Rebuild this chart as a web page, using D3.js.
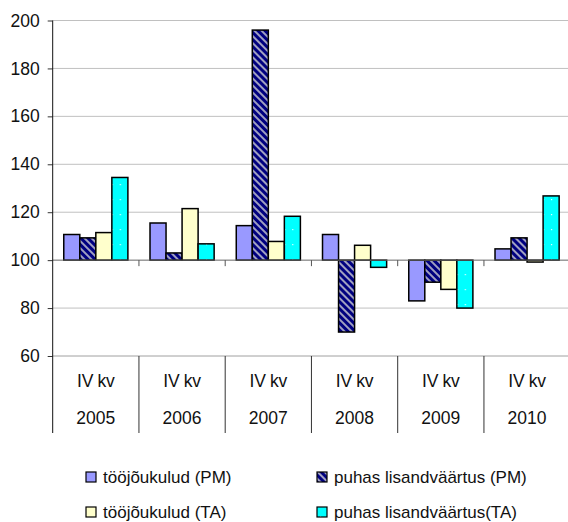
<!DOCTYPE html>
<html>
<head>
<meta charset="utf-8">
<script src="https://cdn.jsdelivr.net/npm/d3@7"></script>
<style>
  body { margin: 0; background: #fff; }
  svg { display: block; font-family: "Liberation Sans", Arial, sans-serif; }
</style>
</head>
<body>
<div id="chart"></div>
<script>
const quarters = ["IV kv", "IV kv", "IV kv", "IV kv", "IV kv", "IV kv"];
const years = ["2005", "2006", "2007", "2008", "2009", "2010"];
const seriesNames = ["tööjõukulud (PM)", "puhas lisandväärtus (PM)", "tööjõukulud (TA)", "puhas lisandväärtus(TA)"];
const laborPM = [110.7, 115.5, 114.4, 110.7, 83.0, 104.7];
const valuePM = [109.3, 103.0, 196.0, 70.0, 90.8, 109.3];
const laborTA = [111.5, 121.5, 107.8, 106.2, 87.8, 99.2];
const valueTA = [134.5, 106.8, 118.3, 97.0, 80.0, 126.8];
const yTicks = [60, 80, 100, 120, 140, 160, 180, 200];

const WIDTH = 568, HEIGHT = 522,
    LEFT = 52.7, RIGHT = 570.2,
    TOP = 20.5, BOTTOM = 356,
    BASE = 100;

const allSeries = [laborPM, valuePM, laborTA, valueTA];
const fills = ["#9999ff", "url(#hatch)", "#ffffcc", "url(#dots)"];

const svg = d3.select("#chart").append("svg")
    .attr("width", WIDTH)
    .attr("height", HEIGHT);

const defs = svg.append("defs");
const hatch = defs.append("pattern")
    .attr("id", "hatch")
    .attr("patternUnits", "userSpaceOnUse")
    .attr("width", 5).attr("height", 5)
    .attr("patternTransform", "rotate(45)");
hatch.append("rect").attr("width", 5).attr("height", 5).attr("fill", "#000080");
hatch.append("rect").attr("width", 5).attr("height", 2).attr("fill", "#a0a0c0");

const dots = defs.append("pattern")
    .attr("id", "dots")
    .attr("patternUnits", "userSpaceOnUse")
    .attr("width", 8).attr("height", 15);
dots.append("rect").attr("width", 8).attr("height", 15).attr("fill", "#00ffff");
dots.append("rect").attr("x", 3).attr("y", 4).attr("width", 1.2).attr("height", 1.2).attr("fill", "#e8ffff");

const y = d3.scaleLinear().domain([60, 200]).range([BOTTOM, TOP]);
const x0 = d3.scaleBand().domain(d3.range(years.length)).range([LEFT, RIGHT]);
const x1 = d3.scaleBand().domain(d3.range(4)).range([0, x0.bandwidth()]).paddingOuter(0.69);

// gridlines
svg.append("g")
    .selectAll("line")
    .data(yTicks.filter(t => t !== BASE))
    .join("line")
    .attr("x1", LEFT).attr("x2", WIDTH)
    .attr("y1", d => y(d)).attr("y2", d => y(d))
    .attr("stroke", "#c0c0c0")
    .attr("stroke-width", 1);

// bars
const groups = svg.append("g")
    .selectAll("g")
    .data(years.map((yr, i) => i))
    .join("g")
    .attr("transform", i => `translate(${x0(i)},0)`);

groups.selectAll("rect")
    .data(i => allSeries.map((s, k) => ({k, v: s[i]})))
    .join("rect")
    .attr("x", d => x1(d.k))
    .attr("width", x1.bandwidth())
    .attr("y", d => y(Math.max(d.v, BASE)))
    .attr("height", d => Math.max(1, Math.abs(y(d.v) - y(BASE))))
    .attr("fill", d => fills[d.k])
    .attr("stroke", "#000")
    .attr("stroke-width", 1.5);

// category axis at 100
svg.append("line")
    .attr("x1", LEFT).attr("x2", WIDTH)
    .attr("y1", y(BASE)).attr("y2", y(BASE))
    .attr("stroke", "#666").attr("stroke-width", 1);
svg.append("g")
    .selectAll("line")
    .data(d3.range(1, years.length))
    .join("line")
    .attr("x1", i => x0(i)).attr("x2", i => x0(i))
    .attr("y1", y(BASE)).attr("y2", y(BASE) + 6)
    .attr("stroke", "#555");

// bottom gridline 60 + separators
svg.append("line")
    .attr("x1", LEFT).attr("x2", WIDTH)
    .attr("y1", y(60)).attr("y2", y(60))
    .attr("stroke", "#c0c0c0");
svg.append("g")
    .selectAll("line")
    .data(d3.range(1, years.length))
    .join("line")
    .attr("x1", i => x0(i)).attr("x2", i => x0(i))
    .attr("y1", y(60)).attr("y2", 433)
    .attr("stroke", "#333");

// y axis
const yAxis = svg.append("g")
    .attr("transform", `translate(${LEFT},0)`)
    .call(d3.axisLeft(y).tickValues(yTicks).tickSize(5).tickSizeOuter(0));
yAxis.select(".domain").remove();
yAxis.selectAll(".tick line").attr("stroke", "#333");
yAxis.selectAll(".tick text")
    .attr("font-size", 17.5)
    .attr("font-family", "Liberation Sans, Arial, sans-serif")
    .attr("fill", "#111")
    .attr("x", -13);
svg.append("line")
    .attr("x1", LEFT).attr("x2", LEFT)
    .attr("y1", TOP).attr("y2", 433)
    .attr("stroke", "#111");

// category labels
const labels = svg.append("g")
    .selectAll("g")
    .data(years.map((yr, i) => i))
    .join("g")
    .attr("transform", i => `translate(${x0(i) + x0.bandwidth() / 2},0)`)
    .attr("text-anchor", "middle")
    .attr("font-size", 17.5)
    .attr("fill", "#111");
labels.append("text").attr("y", 387).attr("letter-spacing", -0.3).text(i => quarters[i]);
labels.append("text").attr("y", 424).text(i => years[i]);

// legend
const legendPos = [[86, 477], [317, 477], [86, 512], [317, 512]];
const legend = svg.append("g")
    .selectAll("g")
    .data(seriesNames.map((n, k) => k))
    .join("g")
    .attr("transform", k => `translate(${legendPos[k][0]},${legendPos[k][1]})`);
legend.append("rect")
    .attr("x", 0).attr("y", -5)
    .attr("width", 10).attr("height", 10)
    .attr("fill", k => fills[k])
    .attr("stroke", "#000").attr("stroke-width", 1.2);
legend.append("text")
    .attr("x", 17).attr("y", 6)
    .attr("font-size", 17)
    .attr("fill", "#111")
    .text(k => seriesNames[k]);
</script>
</body>
</html>
